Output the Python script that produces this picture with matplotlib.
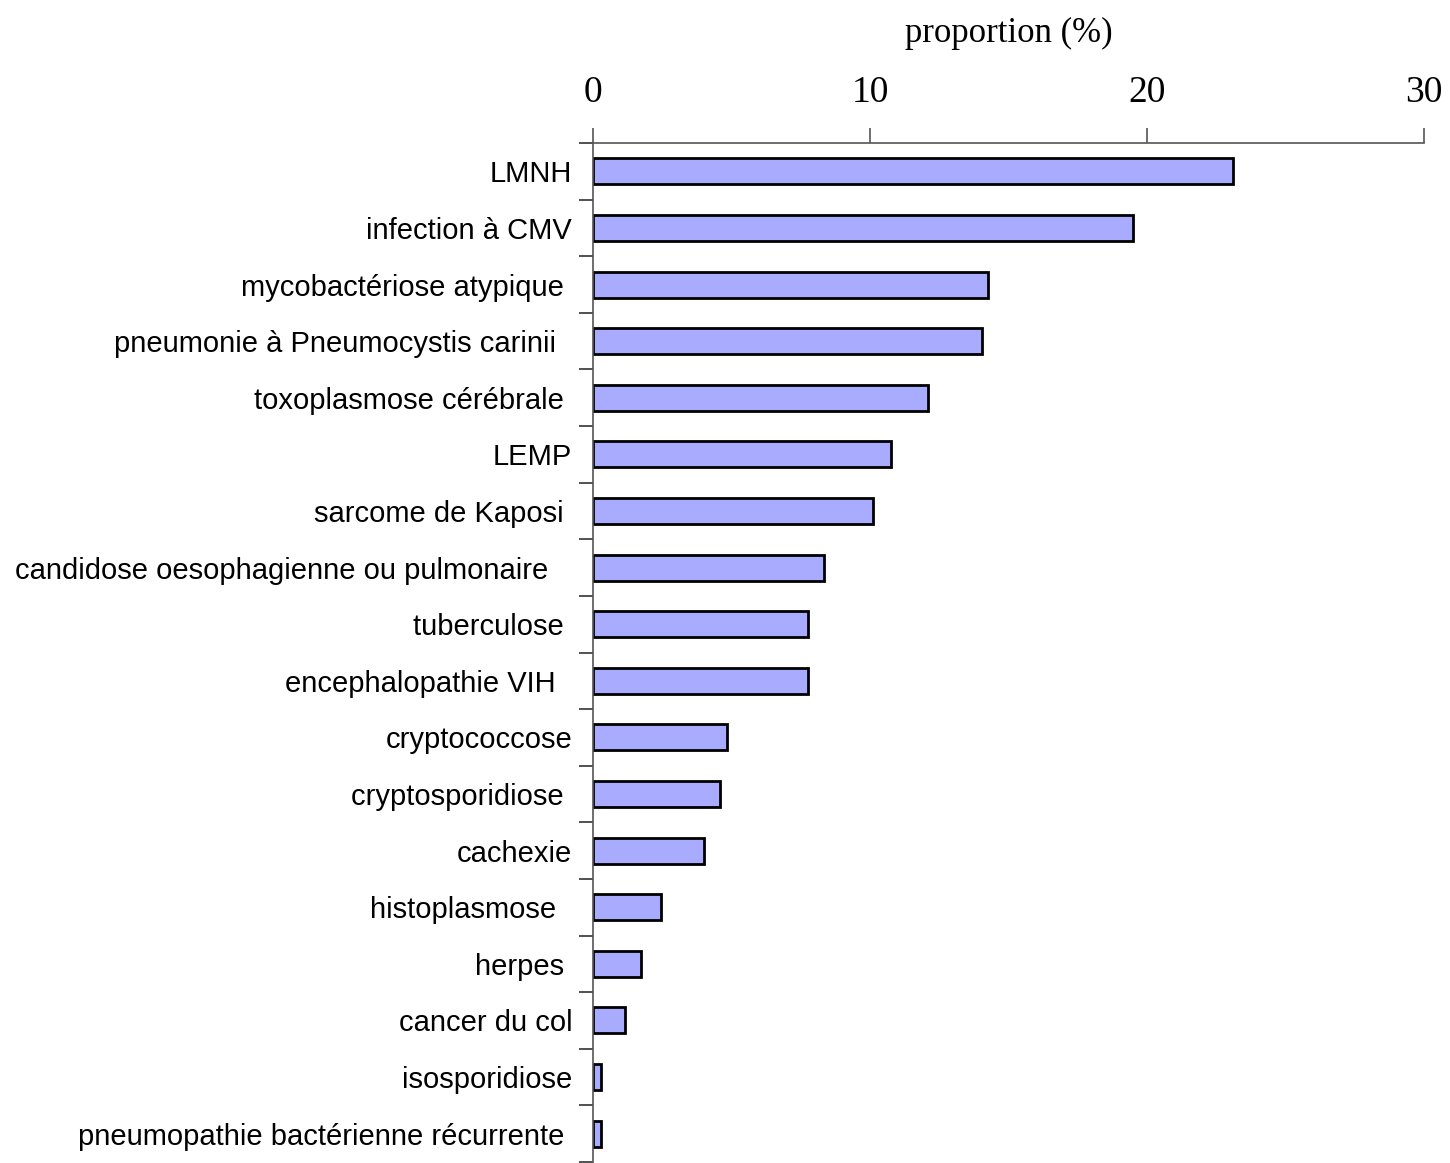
import numpy as np
import matplotlib.pyplot as plt

# categories (trailing spaces kept as in the source sheet)
labels = ['LMNH', 'infection à CMV', 'mycobactériose atypique ',
          'pneumonie à Pneumocystis carinii  ', 'toxoplasmose cérébrale ',
          'LEMP', 'sarcome de Kaposi ', 'candidose oesophagienne ou pulmonaire   ',
          'tuberculose ', 'encephalopathie VIH  ', 'cryptococcose',
          'cryptosporidiose ', 'cachexie', 'histoplasmose  ', 'herpes ',
          'cancer du col', 'isosporidiose', 'pneumopathie bactérienne récurrente ']
values = [23.1, 19.5, 14.25, 14.05, 12.1, 10.75, 10.1, 8.35, 7.75, 7.75,
          4.85, 4.6, 4.0, 2.45, 1.75, 1.15, 0.3, 0.3]
xticks = [0, 10, 20, 30]

fig = plt.figure(figsize=(14.5, 11.63), dpi=100)
ax = fig.add_axes([593/1450, 1/1163, 831/1450, 1019/1163])

y = np.arange(len(labels))
ax.barh(y, values, height=0.46, color='#a9abff', edgecolor='black', linewidth=2)

ax.set_xlim(0, 30)
ax.set_ylim(len(labels) - 0.5, -0.5)

for s in ['right', 'bottom']:
    ax.spines[s].set_visible(False)
for s in ['top', 'left']:
    ax.spines[s].set_color('#555555')
    ax.spines[s].set_linewidth(1.2)

ax.xaxis.tick_top()
ax.set_xticks(xticks)
ax.set_xticklabels([str(t) for t in xticks], family='Liberation Serif', fontsize=27)
ax.tick_params(axis='x', direction='out', length=11, width=1.2, color='#555555', pad=13)
ax.xaxis.set_label_position('top')
ax.set_xlabel('proportion (%)', family='Liberation Serif', fontsize=25, labelpad=24)

ax.set_yticks(y)
ax.set_yticklabels(labels, family='Liberation Sans', fontsize=21)
ax.tick_params(axis='y', which='major', length=0, pad=15)
ax.set_yticks(np.arange(-0.5, len(labels)), minor=True)
ax.tick_params(axis='y', which='minor', direction='out', length=10, width=1.2, color='#333333')

fig.savefig('out.png', dpi=100)
